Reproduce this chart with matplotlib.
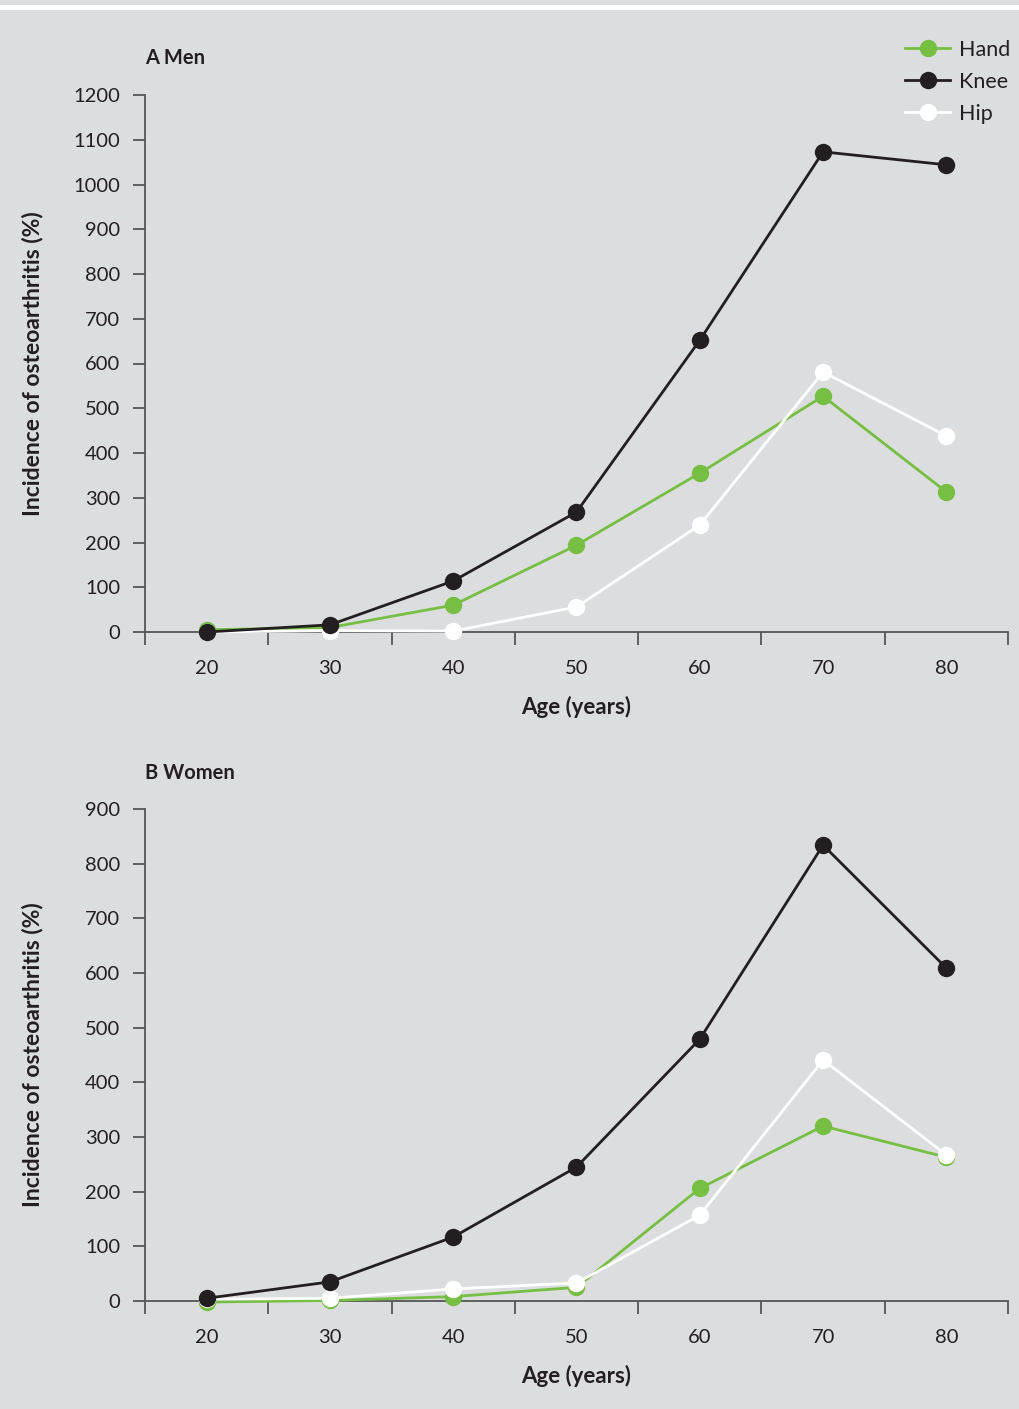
import matplotlib.pyplot as plt
from matplotlib.lines import Line2D
from matplotlib.patches import Rectangle

ages = [20, 30, 40, 50, 60, 70, 80]

men_hand = [5, 10, 60, 194, 355, 527, 313]
men_knee = [0, 16, 114, 268, 652, 1073, 1044]
men_hip = [0, 3, 2, 56, 239, 581, 438]

women_hand = [-2, 1, 8, 25, 206, 320, 263]
women_knee = [5, 35, 117, 245, 479, 834, 609]
women_hip = [3, 5, 22, 33, 157, 441, 267]

bg = '#dcdddf'
green = '#76bf43'
black = '#231f20'
axis_col = '#555555'

plt.rcParams['font.family'] = ['Lato', 'DejaVu Sans']

fig = plt.figure(figsize=(10.19, 14.09), dpi=100, facecolor=bg)
# thin white band across the top
fig.patches.append(Rectangle((0, 1 - 10 / 1409), 1, 5 / 1409, transform=fig.transFigure,
                             facecolor='white', edgecolor='none'))


def panel(rect, hand, knee, hip, ymax, title, title_off):
    ax = fig.add_axes(rect)
    ax.set_facecolor(bg)
    kw = dict(marker='o', markersize=11.5, lw=2, clip_on=False)
    ax.plot(ages, hand, color=green, zorder=3, **kw)
    ax.plot(ages, hip, color='white', zorder=4, **kw)
    ax.plot(ages, knee, color=black, zorder=5, **kw)

    ax.set_xlim(15, 85)
    ax.set_ylim(0, ymax)
    # boundary ticks between decades, labels centred on the decades
    ax.set_xticks(range(15, 90, 10))
    ax.set_xticklabels([])
    ax.set_xticks(ages, minor=True)
    ax.set_xticklabels([str(a) for a in ages], minor=True)
    ax.tick_params(axis='x', which='major', direction='out', length=9, width=1.3, color=axis_col)
    ax.tick_params(axis='x', which='minor', length=0, pad=20, labelsize=14.5, labelcolor=black)
    ax.set_yticks(range(0, ymax + 1, 100))
    ax.tick_params(axis='y', direction='out', length=9, width=1.3, color=axis_col,
                   labelsize=14.5, labelcolor=black, pad=9)
    for s in ['top', 'right']:
        ax.spines[s].set_visible(False)
    for s in ['left', 'bottom']:
        ax.spines[s].set_color(axis_col)
        ax.spines[s].set_linewidth(1.3)

    ax.set_xlabel('Age (years)', fontsize=16, fontweight='bold', color=black, labelpad=14)
    ax.set_ylabel('Incidence of osteoarthritis (%)', fontsize=16.5, fontweight='bold',
                  color=black)
    ax.yaxis.set_label_coords(-102 / 863, 0.5)
    ax.text(0.0, 1 + title_off / (rect[3] * 1409), title, transform=ax.transAxes,
            fontsize=14.5, fontweight='bold', color=black, va='bottom', ha='left')
    return ax


ax1 = panel([145 / 1019, 1 - 632 / 1409, 863 / 1019, 537 / 1409],
            men_hand, men_knee, men_hip, 1200, 'A Men', 27)
ax2 = panel([145 / 1019, 1 - 1301 / 1409, 863 / 1019, 492 / 1409],
            women_hand, women_knee, women_hip, 900, 'B Women', 26)

handles = [Line2D([], [], color=c, marker='o', markersize=11.5, lw=2)
           for c in [green, black, 'white']]
fig.legend(handles, ['Hand', 'Knee', 'Hip'], loc='upper right',
           bbox_to_anchor=(1010 / 1019, 1 - 40 / 1409), frameon=False, fontsize=15.5,
           borderpad=0, borderaxespad=0, handlelength=2.1, handletextpad=0.4,
           labelspacing=0.55, labelcolor=black)

fig.savefig('out.png', dpi=100, facecolor=bg)
